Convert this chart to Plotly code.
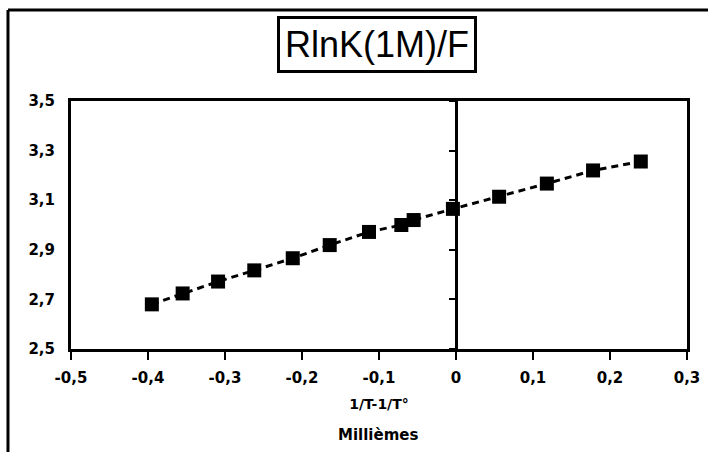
import plotly.graph_objects as go

# 1/T - 1/T° (millièmes) and R·lnK(1M)/F
inv_t = [-0.395, -0.355, -0.309, -0.262, -0.212, -0.164, -0.113,
         -0.071, -0.055, -0.004, 0.056, 0.118, 0.178, 0.240]
rlnk = [2.68, 2.724, 2.772, 2.817, 2.866, 2.919, 2.972,
        3.0, 3.02, 3.065, 3.114, 3.167, 3.22, 3.256]

x_ticks = [-0.5, -0.4, -0.3, -0.2, -0.1, 0, 0.1, 0.2, 0.3]
x_labels = ["-0,5", "-0,4", "-0,3", "-0,2", "-0,1", "0", "0,1", "0,2", "0,3"]
y_ticks = [2.5, 2.7, 2.9, 3.1, 3.3, 3.5]
y_labels = ["2,5", "2,7", "2,9", "3,1", "3,3", "3,5"]

FONT = "Liberation Sans, Arial, sans-serif"
LABEL_FONT = "DejaVu Sans, sans-serif"

fig = go.Figure()
fig.add_trace(go.Scatter(
    x=inv_t, y=rlnk, mode="lines+markers",
    line=dict(color="black", width=3, dash="7px,5px"),
    marker=dict(symbol="square", size=14, color="black"),
    showlegend=False, hoverinfo="x+y",
))
# carrier trace for the vertical axis drawn through x = 0
fig.add_trace(go.Scatter(
    x=inv_t, y=rlnk, yaxis="y2", mode="lines",
    line=dict(width=0), opacity=0, showlegend=False, hoverinfo="skip",
))

fig.update_layout(
    width=708, height=452,
    margin=dict(l=71, r=21, t=101, b=103, autoexpand=False),
    paper_bgcolor="white", plot_bgcolor="white",
    font=dict(family=FONT, color="black"),
    xaxis=dict(
        range=[-0.5, 0.3], tickvals=x_ticks, ticktext=x_labels,
        automargin=False,
        showline=True, mirror=True, linecolor="black", linewidth=3,
        ticks="outside", ticklen=8, tickwidth=2, tickcolor="black",
        showgrid=False, zeroline=False,
        tickfont=dict(size=15, family=LABEL_FONT, weight="bold"),
        ticklabelstandoff=5,
        title=dict(text="1/T-1/T°",
                   font=dict(size=14, family=LABEL_FONT, weight="bold"),
                   standoff=14),
    ),
    yaxis=dict(
        range=[2.5, 3.5], tickvals=y_ticks, ticktext=y_labels,
        automargin=False,
        showline=True, mirror=True, linecolor="black", linewidth=3,
        ticks="", showgrid=False, zeroline=False,
        tickfont=dict(size=15, family=LABEL_FONT, weight="bold"),
        ticklabelstandoff=10,
    ),
    yaxis2=dict(
        range=[2.5, 3.5], overlaying="y", anchor="free", position=0.625,
        automargin=False,
        side="left", tickvals=y_ticks, showticklabels=False,
        showline=True, linecolor="black", linewidth=3,
        ticks="outside", ticklen=6, tickwidth=2, tickcolor="black",
        showgrid=False, zeroline=False,
    ),
    annotations=[
        dict(text="RlnK(1M)/F", xref="paper", yref="paper",
             x=0.496, y=1.226, xanchor="center", yanchor="middle",
             showarrow=False, font=dict(size=36, family=FONT),
             bordercolor="black", borderwidth=3, borderpad=5,
             bgcolor="white"),
        dict(text="Millièmes", xref="paper", yref="paper",
             x=0.498, y=-0.347, xanchor="center", yanchor="middle",
             showarrow=False,
             font=dict(size=15, family=LABEL_FONT, weight="bold")),
    ],
    shapes=[
        # outer frame: top and left edges
        dict(type="line", xref="paper", yref="paper",
             x0=-0.1023, x1=1.04, y0=1.367, y1=1.367,
             line=dict(color="black", width=3)),
        dict(type="line", xref="paper", yref="paper",
             x0=-0.1023, x1=-0.1023, y0=1.367, y1=-0.42,
             line=dict(color="black", width=3)),
    ],
)

fig.write_html("out.html")
